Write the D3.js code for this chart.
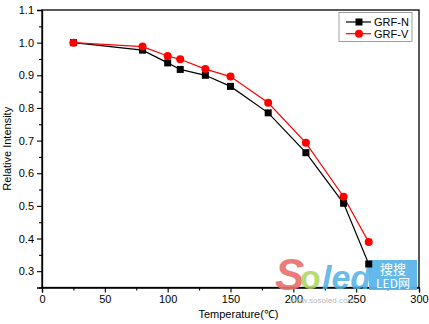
<!DOCTYPE html>
<html><head><meta charset="utf-8">
<script src="https://cdn.jsdelivr.net/npm/d3@7"></script>
<style>body{margin:0;background:#fff}svg{display:block}text{font-family:"Liberation Sans",Arial,sans-serif}</style>
</head><body><svg id="c" width="429" height="324"></svg>
<script>
const temps = [25, 80, 100, 110, 130, 150, 180, 210, 240, 260];
const grfN = [1.0, 0.977, 0.938, 0.918, 0.900, 0.866, 0.785, 0.663, 0.508, 0.322];
const grfV = [1.0, 0.988, 0.959, 0.949, 0.919, 0.896, 0.816, 0.693, 0.528, 0.389];
const xTicks = [0, 50, 100, 150, 200, 250, 300];
const yTicks = [0.3, 0.4, 0.5, 0.6, 0.7, 0.8, 0.9, 1.0, 1.1];
const seriesNames = ["GRF-N", "GRF-V"];

const svg = d3.select("#c");
const L = 42, R = 419, T = 10, B = 287.5;
const x = d3.scaleLinear().domain([0, 300]).range([L, R]);
const y = d3.scaleLinear().domain([0.25, 1.1]).range([B, T]);

// frame
svg.append("rect").attr("x", L).attr("y", T).attr("width", R - L).attr("height", B - T)
  .attr("fill", "none").attr("stroke", "#000").attr("stroke-width", 1.3);

// x axis
const xa = svg.append("g").attr("transform", `translate(0,${B})`)
  .call(d3.axisBottom(x).tickValues(xTicks).tickSize(5).tickPadding(3).tickFormat(d3.format("d")));
svg.append("g").attr("transform", `translate(0,${B})`)
  .call(d3.axisBottom(x).tickValues(d3.range(25, 300, 50)).tickSize(3).tickFormat(""))
  .call(g => g.select(".domain").remove());
// y axis
const ya = svg.append("g").attr("transform", `translate(${L},0)`)
  .call(d3.axisLeft(y).tickValues(yTicks).tickSize(5).tickPadding(3).tickFormat(d3.format(".1f")));
svg.append("g").attr("transform", `translate(${L},0)`)
  .call(d3.axisLeft(y).tickValues([0.25,0.35,0.45,0.55,0.65,0.75,0.85,0.95,1.05]).tickSize(3).tickFormat(""))
  .call(g => g.select(".domain").remove());
svg.selectAll(".domain").attr("stroke-width", 1.3);
svg.selectAll(".tick line").attr("stroke-width", 1.1);
svg.selectAll(".tick text").attr("font-size", 11).attr("fill", "#000").style("font-family", "Liberation Sans, Arial, sans-serif");

// titles
svg.append("text").attr("x", (L + R) / 2 + 8).attr("y", 318).attr("text-anchor", "middle")
  .attr("font-size", 11).text("Temperature(℃)");
svg.append("text").attr("transform", `translate(11,${(T + B) / 2}) rotate(-90)`).attr("text-anchor", "middle")
  .attr("font-size", 11).text("Relative Intensity");

// watermark (approximate)
const wm = svg.append("g");
wm.append("text").attr("x", 275).attr("y", 290).attr("font-size", 44).attr("font-style", "italic")
  .attr("font-weight", "bold").attr("fill", "#e8706c").attr("opacity", 0.9).text("S");
wm.append("text").attr("x", 300).attr("y", 289).attr("font-size", 34).attr("font-weight", "bold")
  .attr("fill", "#a6d65a").attr("opacity", 0.85).text("o");
wm.append("text").attr("x", 322).attr("y", 289).attr("font-size", 34).attr("font-style", "italic")
  .attr("font-weight", "bold").attr("fill", "#4fb0e6").attr("opacity", 0.85).text("led");
wm.append("text").attr("x", 290).attr("y", 303).attr("font-size", 8).attr("fill", "#bbb").text("www.sosoled.com");
wm.append("rect").attr("x", 369).attr("y", 260).attr("width", 48).attr("height", 30).attr("fill", "#5bb5e8").attr("opacity", 0.95);
wm.append("text").attr("x", 393).attr("y", 274).attr("text-anchor", "middle").attr("font-size", 13)
  .attr("fill", "#fff").style("font-family", "Noto Sans CJK SC").text("搜搜");
wm.append("text").attr("x", 393).attr("y", 288).attr("text-anchor", "middle").attr("font-size", 12)
  .attr("fill", "#fff").style("font-family", "Noto Sans CJK SC").text("LED网");

// series
const line = d3.line().x((d, i) => x(temps[i])).y(d => y(d));
svg.append("path").datum(grfN).attr("d", line).attr("fill", "none").attr("stroke", "#000").attr("stroke-width", 1.2);
svg.append("path").datum(grfV).attr("d", line).attr("fill", "none").attr("stroke", "#f00").attr("stroke-width", 1.2);
svg.append("g").selectAll("rect").data(grfN).join("rect")
  .attr("x", (d, i) => x(temps[i]) - 3.5).attr("y", d => y(d) - 3.5).attr("width", 7).attr("height", 7).attr("fill", "#000");
svg.append("g").selectAll("circle").data(grfV).join("circle")
  .attr("cx", (d, i) => x(temps[i])).attr("cy", d => y(d)).attr("r", 4).attr("fill", "#f00");

// legend
const lg = svg.append("g");
lg.append("rect").attr("x", 339).attr("y", 12.5).attr("width", 73).attr("height", 29)
  .attr("fill", "#fff").attr("stroke", "#888").attr("stroke-width", 0.8);
const colors = ["#000", "#f00"];
seriesNames.forEach((n, i) => {
  const yy = 22 + i * 11.7;
  lg.append("line").attr("x1", 346).attr("x2", 371).attr("y1", yy).attr("y2", yy).attr("stroke", colors[i]).attr("stroke-width", 1.2);
  if (i === 0) lg.append("rect").attr("x", 355.5).attr("y", yy - 3.5).attr("width", 7).attr("height", 7).attr("fill", "#000");
  else lg.append("circle").attr("cx", 359).attr("cy", yy).attr("r", 4).attr("fill", "#f00");
  lg.append("text").attr("x", 374).attr("y", yy + 4).attr("font-size", 11).text(n);
});
</script></body></html>
